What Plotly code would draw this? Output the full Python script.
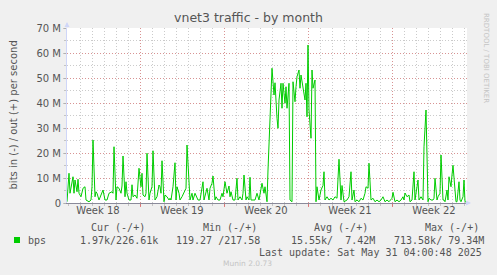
import plotly.graph_objects as go
from datetime import datetime, timedelta

# ---------------- data ----------------
START = datetime(2025, 4, 27, 22, 0)      # first 2-hour sample of the month view
END = datetime(2025, 5, 31, 6, 0)
STEP_HOURS = 2

# sample number (2-hour steps since START) and outgoing traffic in Mbit/s
slots = [0, 2, 3, 6, 7, 8, 10, 11, 12, 14, 16, 18, 19, 22, 24, 25, 26, 28, 29, 30,
         32, 35, 36, 38, 40, 42, 45, 46, 47, 49, 50, 52, 54, 55, 56, 58, 59, 60, 62, 64,
         65, 66, 68, 70, 72, 74, 75, 76, 78, 79, 80, 82, 83, 85, 86, 88, 90, 92, 93, 94,
         95, 97, 98, 100, 102, 103, 104, 106, 108, 109, 110, 112, 113, 115, 117, 119, 120, 122, 123, 125,
         126, 128, 130, 131, 133, 136, 137, 139, 140, 142, 143, 145, 146, 148, 149, 151, 153, 155, 156, 158,
         159, 160, 162, 163, 164, 166, 168, 170, 171, 173, 175, 176, 177, 179, 180, 182, 183, 184, 186, 188,
         190, 192, 195, 197, 198, 200, 201, 203, 205, 207, 208, 210, 211, 212, 214, 215, 216, 218, 219, 220,
         222, 223, 225, 226, 228, 229, 230, 232, 233, 234, 236, 238, 239, 240, 241, 242, 244, 245, 246, 248,
         249, 250, 252, 253, 254, 256, 257, 258, 260, 262, 264, 266, 268, 270, 272, 274, 275, 277, 279, 280,
         282, 284, 285, 287, 288, 290, 292, 294, 296, 298, 299, 301, 302, 304, 306, 308, 310, 312, 314, 316,
         318, 320, 322, 324, 325, 326, 328, 330, 332, 334, 336, 337, 338, 340, 342, 343, 345, 347, 348, 350,
         351, 352, 354, 356, 357, 359, 360, 361, 362, 364, 366, 367, 368, 370, 371, 373, 374, 376, 377, 378,
         380, 381, 382, 384, 385, 386, 388, 389, 390, 392, 393, 394, 396, 397, 398, 400]
out_mbps = [0.5, 11.9, 3.9, 10.5, 3.9, 9.2, 4.5, 9.5, 3.9, 2.5, 5.9, 6.5, 1.2, 0.5, 1.2, 6.5, 25.2, 2.5, 4.5, 3.9,
            1.2, 3.9, 5.2, 1.2, 1.2, 3.9, 4.5, 3.9, 22.5, 1.2, 6.5, 5.9, 3.9, 6.8, 18.8, 2.5, 8.5, 3.9, 1.2, 1.2,
            7.3, 2.5, 3.2, 1.9, 13.9, 6.5, 11.9, 3.2, 2.5, 3.9, 19.9, 1.2, 3.9, 6.5, 20.9, 1.2, 2.5, 7.2, 6.5, 3.9,
            16.9, 0.5, 3.2, 2.5, 1.2, 1.9, 1.2, 6.5, 16.1, 1.2, 6.5, 3.9, 1.2, 2.5, 3.9, 5.9, 23.2, 3.9, 1.2, 3.9,
            1.2, 3.9, 2.5, 1.2, 1.2, 8.5, 1.2, 3.9, 5.9, 1.2, 5.9, 7.9, 10.8, 1.2, 2.5, 1.2, 1.2, 3.9, 2.5, 8.5,
            6.5, 3.9, 6.8, 2.5, 4.5, 1.2, 1.2, 9.9, 1.2, 2.5, 1.2, 3.9, 11.2, 1.2, 2.5, 1.2, 10.3, 1.2, 1.2, 1.2,
            3.9, 1.2, 7.9, 3.9, 6.5, 0.5, 13.2, 33.2, 53.9, 43.2, 48.1, 33.9, 29.9, 41.2, 47.9, 37.9, 47.9, 39.9, 46.5, 37.9,
            47.9, 1.2, 0.5, 48.5, 40.5, 46.5, 50.5, 53.2, 45.9, 51.2, 46.5, 41.2, 47.9, 34.5, 63.2, 37.2, 25.9, 53.2, 45.9, 49.2,
            0.5, 6.5, 1.2, 3.9, 5.2, 7.0, 12.5, 1.2, 2.5, 1.2, 1.9, 1.2, 2.5, 1.9, 17.5, 1.2, 7.0, 0.5, 1.2, 1.2,
            2.5, 12.5, 1.2, 5.2, 0.5, 1.2, 0.5, 1.9, 1.2, 3.9, 6.5, 5.9, 15.9, 1.2, 1.9, 0.5, 1.2, 0.5, 1.2, 2.5,
            0.5, 1.2, 0.5, 1.2, 1.9, 4.3, 0.5, 1.2, 0.5, 1.2, 2.5, 1.2, 4.0, 2.5, 3.2, 0.5, 1.2, 12.5, 1.2, 6.5,
            9.2, 1.2, 2.5, 1.2, 22.5, 37.2, 22.5, 0.5, 1.9, 1.2, 1.2, 1.9, 9.9, 1.2, 2.5, 3.9, 19.2, 1.2, 1.2, 0.5,
            5.2, 1.2, 10.5, 6.5, 11.2, 15.1, 5.2, 0.5, 0.5, 8.5, 1.2, 0.5, 2.5, 9.2, 0.5, 0.23]

week_starts = ["2025-04-27", "2025-05-04", "2025-05-11", "2025-05-18", "2025-05-25"]
week_label_times = ["2025-04-30 12:00", "2025-05-07 12:00", "2025-05-14 12:00",
                    "2025-05-21 12:00", "2025-05-28 12:00"]
week_labels = ["Week 18", "Week 19", "Week 20", "Week 21", "Week 22"]

y_tickvals = [0, 10e6, 20e6, 30e6, 40e6, 50e6, 60e6, 70e6]
y_ticktext = ["0", "10 M", "20 M", "30 M", "40 M", "50 M", "60 M", "70 M"]

series_name = "bps"
legend_headers = ["Cur (-/+)", "Min (-/+)", "Avg (-/+)", "Max (-/+)"]
legend_values = ["1.97k/226.61k", "119.27 /217.58", "15.55k/  7.42M", "713.58k/ 79.34M"]
last_update = "Last update: Sat May 31 04:00:48 2025"
title_text = "vnet3 traffic - by month"
y_title = "bits in (-) / out (+) per second"
watermark = "RRDTOOL / TOBI OETIKER"
footer = "Munin 2.0.73"

# ---------------- figure ----------------
W, H = 497, 275
L, R, T, B = 67, 30, 28, 72
PW, PH = W - L - R, H - T - B


def px(x):
    return (x - L) / PW


def py(y):
    return (H - B - y) / PH


times = [START + timedelta(hours=STEP_HOURS * s) for s in slots]
vals = [v * 1e6 for v in out_mbps]

GREEN = "#00CC00"
FONT_C = "#555555"
MAJOR = "rgba(225,110,110,0.6)"
MINOR = "rgba(160,160,160,0.55)"
DASH = "1px,2px"
AXIS_C = "#CFD6F8"

fig = go.Figure()
fig.add_trace(go.Scatter(x=times, y=vals, mode="lines", line=dict(color=GREEN, width=1),
                         hoverinfo="skip", showlegend=False))
fig.add_trace(go.Scatter(x=[START], y=[0], mode="markers", opacity=0, xaxis="x2",
                         hoverinfo="skip", showlegend=False))

fig.update_layout(
    width=W, height=H, margin=dict(l=L, r=R, t=T, b=B),
    paper_bgcolor="#F0F0F0", plot_bgcolor="#FFFFFF",
    font=dict(family="DejaVu Sans", size=10, color=FONT_C),
    title=dict(text=title_text, x=0.5, xanchor="center", y=1 - 18 / H, yanchor="middle",
               font=dict(family="DejaVu Sans", size=12.5, color=FONT_C)),
    xaxis=dict(type="date", range=[START, END], tickmode="array", tickvals=week_starts,
               showticklabels=False, showgrid=True, gridcolor=MAJOR, griddash=DASH, gridwidth=1,
               ticks="outside", ticklen=3, tickcolor="rgba(220,100,100,0.8)",
               minor=dict(dtick=86400000, tick0="2025-04-27", showgrid=True, gridcolor=MINOR,
                          griddash=DASH, gridwidth=1, ticks="outside", ticklen=2, tickcolor=MINOR),
               showline=True, linecolor="#8a8a9a", linewidth=1, zeroline=False, fixedrange=True),
    xaxis2=dict(type="date", range=[START, END], overlaying="x", anchor="y", side="bottom",
                tickmode="array", tickvals=week_label_times, ticktext=week_labels,
                showgrid=False, ticks="", showline=False, zeroline=False,
                tickfont=dict(family="DejaVu Sans", size=10, color=FONT_C)),
    yaxis=dict(range=[0, 70e6], tickmode="array", tickvals=y_tickvals, ticktext=y_ticktext,
               showgrid=True, gridcolor=MAJOR, griddash=DASH, gridwidth=1,
               ticks="outside", ticklen=3, tickcolor=MINOR,
               minor=dict(dtick=5e6, showgrid=True, gridcolor=MINOR, griddash=DASH,
                          ticks="outside", ticklen=2, tickcolor=MINOR),
               showline=True, linecolor=AXIS_C, linewidth=1, zeroline=False,
               tickfont=dict(family="DejaVu Sans", size=10, color=FONT_C)),
)

ann = []
# y axis title
ann.append(dict(text=y_title, xref="paper", yref="paper", x=px(13), y=py(115.5),
                textangle=-90, showarrow=False, xanchor="center", yanchor="middle",
                font=dict(family="DejaVu Sans", size=10, color=FONT_C)))
# axis arrows
ann.append(dict(text="", xref="paper", yref="paper", x=px(471), y=0, ax=-7, ay=0,
                showarrow=True, arrowhead=2, arrowsize=1, arrowwidth=1, arrowcolor=AXIS_C))
ann.append(dict(text="", xref="paper", yref="paper", x=0, y=py(22), ax=0, ay=7,
                showarrow=True, arrowhead=2, arrowsize=1, arrowwidth=1, arrowcolor=AXIS_C))
# watermark
ann.append(dict(text=watermark, xref="paper", yref="paper", x=px(486), y=py(58),
                textangle=90, showarrow=False, xanchor="center", yanchor="middle",
                font=dict(family="DejaVu Sans", size=7, color="#C4C4C4")))
# legend
MONO = dict(family="DejaVu Sans Mono", size=10, color=FONT_C)
ann.append(dict(text=series_name, xref="paper", yref="paper", x=px(26), y=py(240),
                showarrow=False, xanchor="left", yanchor="middle", font=MONO))
header_x = [89, 201, 312, 423]
value_x = [78, 174, 289, 392]
for hx, htxt in zip(header_x, legend_headers):
    ann.append(dict(text=htxt.replace(" ", "\u00a0"), xref="paper", yref="paper", x=px(hx), y=py(227),
                    showarrow=False, xanchor="left", yanchor="middle", font=MONO))
for vx, vtxt in zip(value_x, legend_values):
    ann.append(dict(text=vtxt.replace(" ", "\u00a0"), xref="paper", yref="paper", x=px(vx), y=py(240),
                    showarrow=False, xanchor="left", yanchor="middle", font=MONO))
ann.append(dict(text=last_update.replace(" ", "\u00a0"), xref="paper", yref="paper", x=px(484), y=py(252),
                showarrow=False, xanchor="right", yanchor="middle", font=MONO))
ann.append(dict(text=footer, xref="paper", yref="paper", x=px(247.5), y=py(263),
                showarrow=False, xanchor="center", yanchor="middle",
                font=dict(family="DejaVu Sans", size=7.5, color="#C4C4C4")))
fig.update_layout(annotations=ann)

fig.add_shape(type="rect", xref="paper", yref="paper", x0=px(14), x1=px(20), y0=py(243), y1=py(237),
              fillcolor=GREEN, line=dict(width=0))

fig.write_html("out.html", config={"displayModeBar": False})
